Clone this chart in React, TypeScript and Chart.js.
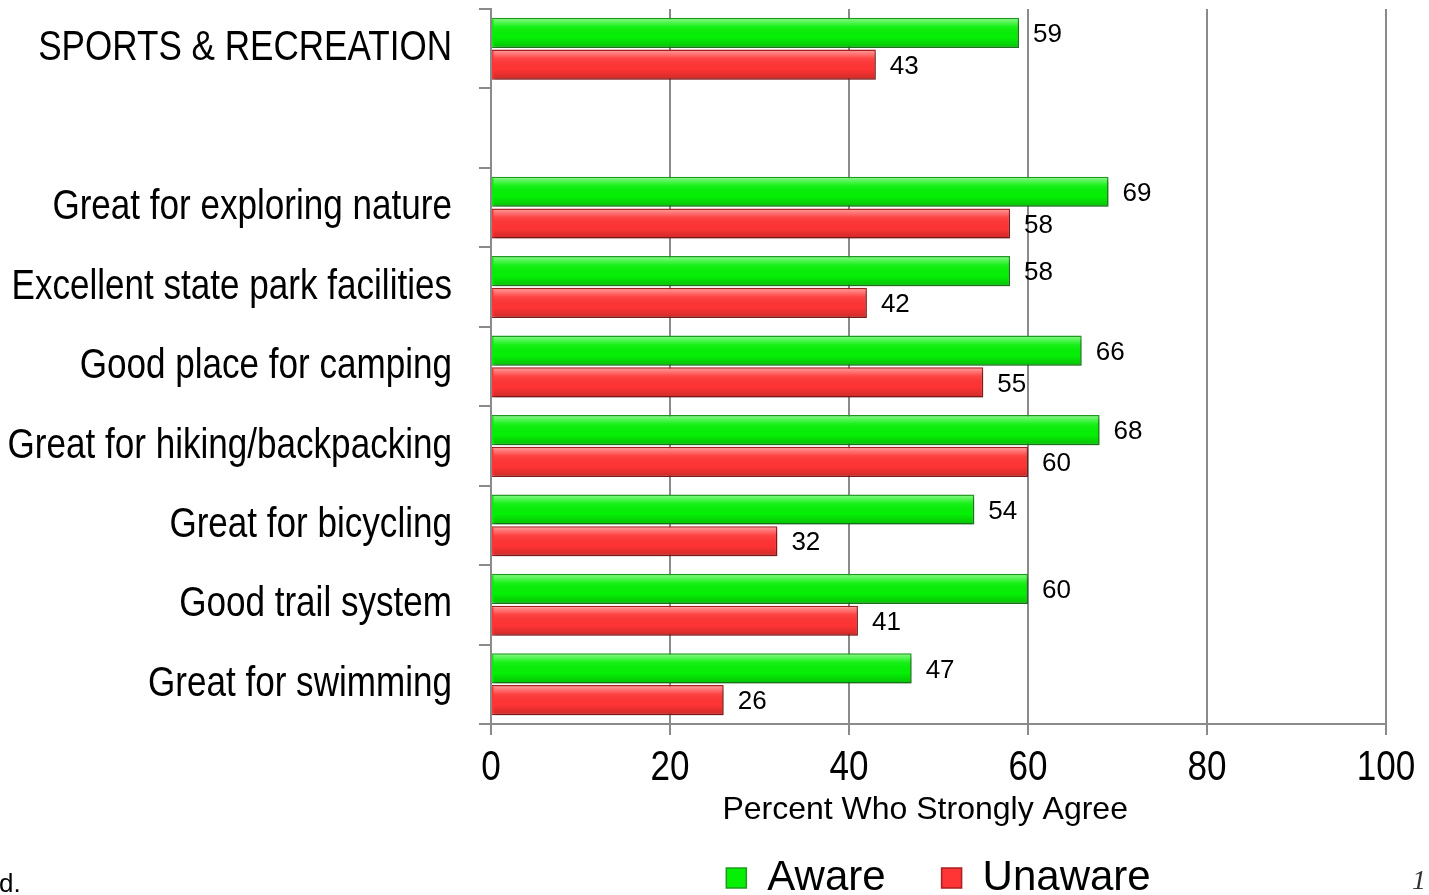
import React, { useEffect, useRef } from "react";
import { Chart, registerables } from "chart.js";

Chart.register(...registerables);

const categories = [
  "SPORTS & RECREATION",
  "",
  "Great for exploring nature",
  "Excellent state park facilities",
  "Good place for camping",
  "Great for hiking/backpacking",
  "Great for bicycling",
  "Good trail system",
  "Great for swimming",
];
const awareValues = [59, null, 69, 58, 66, 68, 54, 60, 47];
const unawareValues = [43, null, 58, 42, 55, 60, 32, 41, 26];
const seriesNames = ["Aware", "Unaware"];
const xTickValues = [0, 20, 40, 60, 80, 100];
const axisTitle = "Percent Who Strongly Agree";

const SANS = "'Liberation Sans', Arial, sans-serif";
const GRID = "#8a8a8a";
const NARROW_SCALE = 0.835;

// Draw a scale's tick labels horizontally condensed (Arial Narrow look).
function condenseLabels(scale: any) {
  if (scale.__condensed) return;
  const orig = scale.drawLabels.bind(scale);
  scale.drawLabels = (area: any) => {
    const ctx = scale.ctx;
    const proto = Object.getPrototypeOf(ctx);
    const base = proto.fillText;
    ctx.fillText = function (t: string, x: number, y: number) {
      this.save();
      this.translate(x, y);
      this.scale(NARROW_SCALE, 1);
      base.call(this, t, 0, 0);
      this.restore();
    };
    try {
      orig(area);
    } finally {
      delete ctx.fillText;
    }
  };
  scale.__condensed = true;
}

const bevelPlugin = {
  id: "bevel",
  beforeDatasetDraw(chart: any) {
    const ctx = chart.ctx;
    ctx.save();
    ctx.shadowColor = "rgba(0,0,0,0.3)";
    ctx.shadowBlur = 4;
    ctx.shadowOffsetX = 2;
    ctx.shadowOffsetY = 3;
  },
  afterDatasetDraw(chart: any) {
    chart.ctx.restore();
  },
  afterDatasetsDraw(chart: any) {
    const ctx = chart.ctx;
    chart.data.datasets.forEach((ds: any, di: number) => {
      const meta = chart.getDatasetMeta(di);
      meta.data.forEach((bar: any, i: number) => {
        const v = ds.data[i];
        if (v == null) return;
        const { x, y, base, height } = bar.getProps(["x", "y", "base", "height"], true);
        const top = y - height / 2;
        const left = Math.min(x, base);
        const w = Math.abs(x - base);
        ctx.save();
        const g = ctx.createLinearGradient(0, top, 0, top + height);
        g.addColorStop(0, "rgba(255,255,255,0.55)");
        g.addColorStop(0.3, "rgba(255,255,255,0.08)");
        g.addColorStop(0.65, "rgba(0,0,0,0)");
        g.addColorStop(1, "rgba(0,0,0,0.2)");
        ctx.fillStyle = g;
        ctx.fillRect(left + 1.5, top + 1.5, w - 3, height - 3);
        ctx.fillStyle = "#000";
        ctx.font = `26px ${SANS}`;
        ctx.textAlign = "left";
        ctx.textBaseline = "middle";
        ctx.fillText(String(v), x + 14, y + 2);
        ctx.restore();
      });
    });
  },
};

const legendPlacePlugin = {
  id: "legendPlace",
  afterLayout(chart: any) {
    condenseLabels(chart.scales.x);
    condenseLabels(chart.scales.y);
    const l = chart.legend;
    const ca = chart.chartArea;
    if (!l || !ca) return;
    l.left = ca.left;
    l.right = ca.right;
    const h = l.bottom - l.top;
    l.top = chart.scales.x.bottom - 45;
    l.bottom = l.top + h;
  },
};

export default function App() {
  const ref = useRef<HTMLCanvasElement | null>(null);
  useEffect(() => {
    if (!ref.current) return;
    const chart = new Chart(ref.current, {
      type: "bar",
      data: {
        labels: categories,
        datasets: [
          {
            label: seriesNames[0],
            data: awareValues,
            backgroundColor: "#06f006",
            borderColor: "#1f9a1f",
            borderWidth: 1.5,
            categoryPercentage: 0.8,
            barPercentage: 0.95,
          },
          {
            label: seriesNames[1],
            data: unawareValues,
            backgroundColor: "#ff3434",
            borderColor: "#a82020",
            borderWidth: 1.5,
            categoryPercentage: 0.8,
            barPercentage: 0.95,
          },
        ],
      },
      options: {
        indexAxis: "y",
        responsive: false,
        animation: false,
        layout: { padding: { top: 9, left: 0, right: 43, bottom: 0 } },
        plugins: {
          tooltip: { enabled: false },
          legend: {
            position: "bottom",
            labels: {
              font: { family: SANS, size: 42 },
              color: "#000",
              boxWidth: 20,
              boxHeight: 20,
              padding: 56,
            },
          },
        },
        scales: {
          x: {
            min: 0,
            max: 100,
            afterBuildTicks: (s: any) => {
              s.ticks = xTickValues.map((v) => ({ value: v }));
            },
            afterFit: (s: any) => {
              s.height = 122;
              s.paddingLeft = 0;
              s.paddingRight = 0;
            },
            grid: { color: GRID, lineWidth: 2, tickLength: 11 },
            border: { color: GRID, width: 2 },
            ticks: {
              font: { family: SANS, size: 42 },
              color: "#000",
              padding: 8,
              maxRotation: 0,
            },
            title: {
              display: true,
              text: axisTitle + "   ",
              font: { family: SANS, size: 32 },
              color: "#000",
              padding: { top: 4, bottom: 17 },
            },
          },
          y: {
            afterFit: (s: any) => {
              s.width = 491;
              s.paddingTop = 0;
              s.paddingBottom = 0;
            },
            grid: { offset: true, drawOnChartArea: false, color: GRID, lineWidth: 2, tickLength: 12 },
            border: { color: GRID, width: 2 },
            ticks: {
              font: { family: SANS, size: 42 },
              color: "#000",
              padding: 27,
              autoSkip: false,
            },
          },
        },
      },
      plugins: [bevelPlugin, legendPlacePlugin],
    } as any);
    return () => chart.destroy();
  }, []);

  return (
    <div
      style={{
        position: "fixed",
        left: 0,
        top: 0,
        width: 1429,
        height: 895,
        overflow: "hidden",
        background: "#fff",
      }}
    >
      <canvas ref={ref} width={1429} height={954} style={{ display: "block", width: 1429, height: 954 }} />
      <span
        style={{
          position: "absolute",
          left: -1,
          top: 870,
          font: `26px ${SANS}`,
          lineHeight: "26px",
          color: "#000",
        }}
      >
        d.
      </span>
      <span
        style={{
          position: "absolute",
          left: 1412,
          top: 866,
          font: `italic 28px 'Liberation Serif', serif`,
          lineHeight: "28px",
          color: "#333",
        }}
      >
        1
      </span>
    </div>
  );
}
